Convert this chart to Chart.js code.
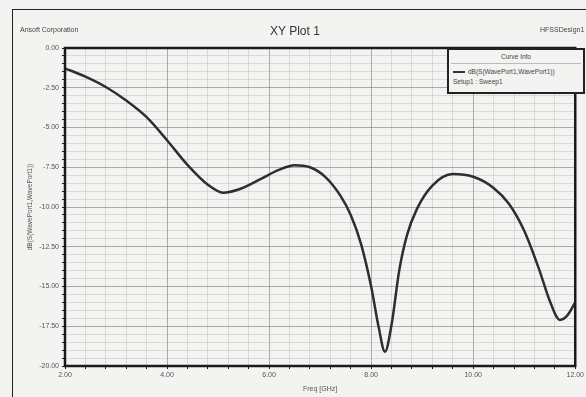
<!DOCTYPE html>
<html>
<head>
<meta charset="utf-8">
<script src="https://cdn.jsdelivr.net/npm/chart.js@4.4.0/dist/chart.umd.min.js"></script>
<style>
  body { margin: 0; background: #f3f3f1; }
  #wrap { position: relative; width: 586px; height: 397px; overflow: hidden; font-family: "Liberation Sans", Arial, sans-serif; }
  #frame { position: absolute; left: 12px; top: 9px; width: 580px; height: 400px; border-left: 1px solid #222; border-top: 1px solid #222; }
  .hdr { position: absolute; color: #444; font-size: 7px; }
  #legendBox { position: absolute; left: 447px; top: 48px; width: 134px; height: 42px; border: 2px solid #222; background: #f3f3f1; font-size: 6.5px; color: #444; }
</style>
</head>
<body>
<div id="wrap">
  <canvas id="chart1" width="586" height="397"></canvas>
  <div id="frame"></div>
  <div class="hdr" style="left:20px; top:26px;">Ansoft Corporation</div>
  <div class="hdr" style="left:270px; top:24px; font-size:12px; color:#333;">XY Plot 1</div>
  <div class="hdr" style="left:540px; top:26px;">HFSSDesign1</div>
  <div id="legendBox">
    <div style="text-align:center; margin-top:3px;">Curve Info</div>
    <div style="border-top:1px solid #bbb; margin:3px 2px 0 2px;"></div>
    <div style="margin:4px 0 0 4px;"><span style="display:inline-block; width:12px; border-top:2px solid #333; vertical-align:middle; margin-right:3px;"></span>dB(S(WavePort1,WavePort1))</div>
    <div style="margin:3px 0 0 4px;">Setup1 : Sweep1</div>
  </div>
</div>
<script>
// values
const freq = [2.0, 2.4, 2.8, 3.2, 3.6, 4.0, 4.4, 4.8, 5.1, 5.4, 5.8, 6.2, 6.5, 6.8, 7.1, 7.4, 7.6, 7.8, 8.0, 8.15, 8.27, 8.4, 8.55, 8.7, 8.9, 9.2, 9.6, 10.0, 10.4, 10.7, 11.0, 11.3, 11.5, 11.7, 11.85, 12.0];
const s11 = [-1.28, -1.8, -2.45, -3.3, -4.35, -5.8, -7.35, -8.6, -9.1, -8.9, -8.3, -7.65, -7.37, -7.5, -8.1, -9.3, -10.5, -12.3, -15.0, -17.6, -19.1, -17.4, -14.0, -11.8, -10.1, -8.65, -7.93, -8.1, -8.8, -9.8, -11.5, -14.0, -15.9, -17.1, -16.8, -16.0];
const xMajor = [2, 4, 6, 8, 10, 12];
const yMajor = [0, -2.5, -5, -7.5, -10, -12.5, -15, -17.5, -20];

const points = [];
for (let i = 0; i < freq.length; i++) {
    points.push({ x: freq[i], y: s11[i] });
}

function isMajor(list, v) {
    for (let i = 0; i < list.length; i++) {
        if (Math.abs(list[i] - v) < 1e-6) return true;
    }
    return false;
}

const boxBorder = {
    id: 'boxBorder',
    afterDraw(chart) {
        const a = chart.chartArea;
        const ctx = chart.ctx;
        ctx.save();
        ctx.strokeStyle = '#1a1a1a';
        ctx.lineWidth = 2.5;
        ctx.strokeRect(a.left, a.top, a.right - a.left, a.bottom - a.top);
        ctx.restore();
    }
};

const ctx1 = document.getElementById('chart1').getContext('2d');
const chart1 = new Chart(ctx1, {
    type: 'scatter',
    data: {
        datasets: [{
            label: 'dB(S(WavePort1,WavePort1))',
            data: points,
            showLine: true,
            borderColor: '#2e2e2e',
            borderWidth: 2.5,
            pointRadius: 0,
            tension: 0.4,
            cubicInterpolationMode: 'monotone'
        }]
    },
    options: {
        responsive: false,
        animation: false,
        layout: { padding: { top: 48, right: 9, left: 0, bottom: 0 } },
        plugins: { legend: { display: false }, tooltip: { enabled: false } },
        scales: {
            x: {
                type: 'linear',
                min: 2,
                max: 12,
                afterFit(scale) { scale.height = 31; },
                ticks: {
                    stepSize: 0.4,
                    autoSkip: false,
                    maxRotation: 0,
                    padding: 2,
                    color: '#555',
                    font: { size: 7, family: 'Liberation Sans' },
                    callback: v => isMajor(xMajor, v) ? v.toFixed(2) : ''
                },
                grid: {
                    color: c => isMajor(xMajor, c.tick.value) ? 'rgba(110,110,110,0.55)' : 'rgba(160,160,160,0.3)',
                    tickColor: '#222',
                    tickLength: 3
                },
                border: { display: false },
                title: {
                    display: true,
                    text: 'Freq [GHz]',
                    color: '#555',
                    font: { size: 7, family: 'Liberation Sans' },
                    padding: { top: 0, bottom: 4 }
                }
            },
            y: {
                min: -20,
                max: 0,
                afterFit(scale) { scale.width = 65; },
                ticks: {
                    stepSize: 0.5,
                    autoSkip: false,
                    padding: 3,
                    color: '#555',
                    font: { size: 7, family: 'Liberation Sans' },
                    callback: v => isMajor(yMajor, v) ? v.toFixed(2) : ''
                },
                grid: {
                    color: c => isMajor(yMajor, c.tick.value) ? 'rgba(110,110,110,0.55)' : 'rgba(160,160,160,0.3)',
                    tickColor: '#222',
                    tickLength: 3
                },
                border: { display: false },
                title: {
                    display: true,
                    text: 'dB(S(WavePort1,WavePort1))',
                    color: '#555',
                    font: { size: 6.5, family: 'Liberation Sans' },
                    padding: { top: 26, bottom: 26 }
                }
            }
        }
    },
    plugins: [boxBorder]
});
</script>
</body>
</html>
